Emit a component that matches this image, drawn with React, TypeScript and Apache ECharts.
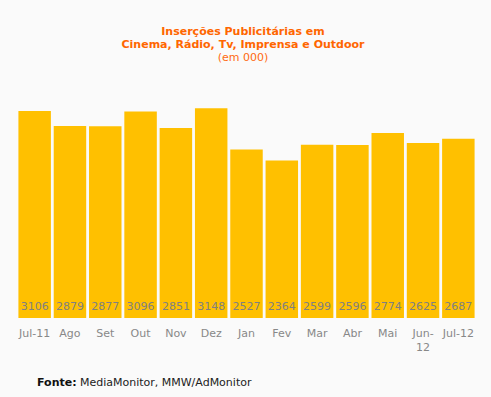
import React, { useEffect, useRef } from "react";
import * as echarts from "echarts";

const categories = ["Jul-11", "Ago", "Set", "Out", "Nov", "Dez", "Jan", "Fev", "Mar", "Abr", "Mai", "Jun-12", "Jul-12"];
const values = [3106, 2879, 2877, 3096, 2851, 3148, 2527, 2364, 2599, 2596, 2774, 2625, 2687];
const titleLines = ["Inserções Publicitárias em", "Cinema, Rádio, Tv, Imprensa e Outdoor"];
const subtitle = "(em 000)";
const sourceLabel = "Fonte:";
const sourceText = "MediaMonitor, MMW/AdMonitor";

export default function App() {
  const ref = useRef<HTMLDivElement>(null);
  useEffect(() => {
    if (!ref.current) return;
    const chart = echarts.init(ref.current, undefined, { renderer: "svg" });
    const font = "DejaVu Sans";
    const cx = 243;
    chart.setOption({
      animation: false,
      backgroundColor: "#fafafa",
      graphic: [
        {
          type: "text",
          x: cx,
          y: 31,
          style: {
            text: titleLines[0],
            align: "center",
            verticalAlign: "middle",
            fill: "#ff6600",
            font: "bold 11px DejaVu Sans",
          },
        },
        {
          type: "text",
          x: cx,
          y: 44,
          style: {
            text: titleLines[1],
            align: "center",
            verticalAlign: "middle",
            fill: "#ff6600",
            font: "bold 11px DejaVu Sans",
          },
        },
        {
          type: "text",
          x: cx,
          y: 57,
          style: {
            text: subtitle,
            align: "center",
            verticalAlign: "middle",
            fill: "#ff6a10",
            font: "11px DejaVu Sans",
          },
        },
        {
          type: "text",
          left: 37,
          top: 376,
          style: {
            text: "{b|" + sourceLabel + "} {n|" + sourceText + "}",
            rich: {
              b: { fontFamily: font, fontSize: 11, fontWeight: "bold", fill: "#111" },
              n: { fontFamily: font, fontSize: 11, fill: "#222" },
            },
          },
        },
      ],
      grid: { left: 17, right: 15, top: 78, bottom: 79, containLabel: false },
      xAxis: {
        type: "category",
        data: categories,
        axisLine: { show: false },
        axisTick: { show: false },
        axisLabel: {
          color: "#888",
          fontFamily: font,
          fontSize: 11,
          margin: 8,
          interval: 0,
          lineHeight: 14,
          formatter: (v: string) => (v === "Jun-12" ? "Jun-\n12" : v),
        },
      },
      yAxis: { type: "value", min: 0, max: 3600, show: false, splitLine: { show: false } },
      series: [
        {
          type: "bar",
          data: values,
          barCategoryGap: "8%",
          itemStyle: { color: "#ffc000" },
          label: {
            show: true,
            position: "insideBottom",
            distance: 6,
            color: "#808080",
            fontFamily: font,
            fontSize: 11,
          },
        },
      ],
    });
    return () => chart.dispose();
  }, []);
  return <div ref={ref} style={{ width: 491, height: 397, position: "absolute", left: 0, top: 0 }} />;
}
